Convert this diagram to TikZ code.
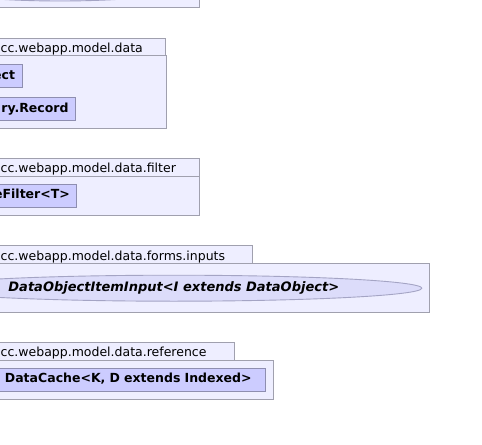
\documentclass[tikz,border=0pt]{standalone}
\usepackage{fontspec}
\setmainfont{DejaVu Sans}
\usetikzlibrary{shapes.geometric}
\definecolor{pkgfill}{HTML}{EEEEFF}
\definecolor{pkgline}{HTML}{A0A0AE}
\definecolor{clsfill}{HTML}{CCCCFF}
\definecolor{clsline}{HTML}{8E8EB0}
\definecolor{ifcfill}{HTML}{DCDCFA}
\definecolor{ifcline}{HTML}{A4A4C4}
\tikzset{
  pkg/.style={draw=pkgline, fill=pkgfill, line width=0.9bp},
  pkgname/.style={inner sep=0pt, anchor=base west, font=\fontsize{12.5bp}{15bp}\selectfont},
  classbox/.style={draw=clsline, fill=clsfill, line width=0.9bp, anchor=east,
    text width=150bp, align=right, inner xsep=7bp, inner ysep=0pt,
    minimum height=23bp, text height=9.4bp, text depth=2.6bp,
    font=\fontsize{12.5bp}{15bp}\selectfont\bfseries},
  ifcbox/.style={ellipse, draw=ifcline, fill=ifcfill, line width=0.9bp, inner sep=0pt,
    font=\fontsize{13bp}{15bp}\selectfont\bfseries\itshape}
}
\begin{document}
\begin{tikzpicture}[x=1bp,y=-1bp]
\useasboundingbox (0,0) rectangle (482,445);

% package above (only its lower edge shows)
\draw[pkg] (-10,-40) rectangle (199.5,7.5);
\node[ellipse, draw=ifcline, fill=ifcfill, line width=0.9bp, inner sep=0pt,
      minimum width=250bp, minimum height=28bp] (topifc) at (60,-13) {};

% package ...cc.webapp.model.data
\draw[pkg] (-10,38.3) rectangle (165.7,55.7);
\draw[pkg] (-10,55.7) rectangle (166.3,128);
\node[pkgname] (pdata) at (0.5,52.4) {cc.webapp.model.data};
\node[classbox] (dataobj) at (22.5,75.7) {ect};
\node[classbox] (record) at (76,109.2) {ry.Record};

% package ...cc.webapp.model.data.filter
\draw[pkg] (-10,158.3) rectangle (199,176);
\draw[pkg] (-10,176) rectangle (199,215.3);
\node[pkgname] (pfilter) at (0.5,172.7) {cc.webapp.model.data.filter};
\node[classbox] (filter) at (77.3,195.6) {eFilter<T>};

% package ...cc.webapp.model.data.forms.inputs
\draw[pkg] (-10,245.3) rectangle (252.3,263.3);
\draw[pkg] (-10,263.3) rectangle (429.7,312.3);
\node[pkgname] (pinputs) at (0.5,260) {cc.webapp.model.data.forms.inputs};
\node[ifcbox, minimum width=496bp, minimum height=26bp] (iteminput) at (173.8,288.2)
  {DataObjectItemInput<I extends DataObject>};

% package ...cc.webapp.model.data.reference
\draw[pkg] (-10,342.3) rectangle (234.7,360);
\draw[pkg] (-10,360) rectangle (273.3,399.3);
\node[pkgname] (preference) at (0.5,356.7) {cc.webapp.model.data.reference};
\node[classbox, text width=280bp, inner xsep=14bp] (cache) at (266,379.5) {DataCache<K, D extends Indexed>};
\end{tikzpicture}
\end{document}
